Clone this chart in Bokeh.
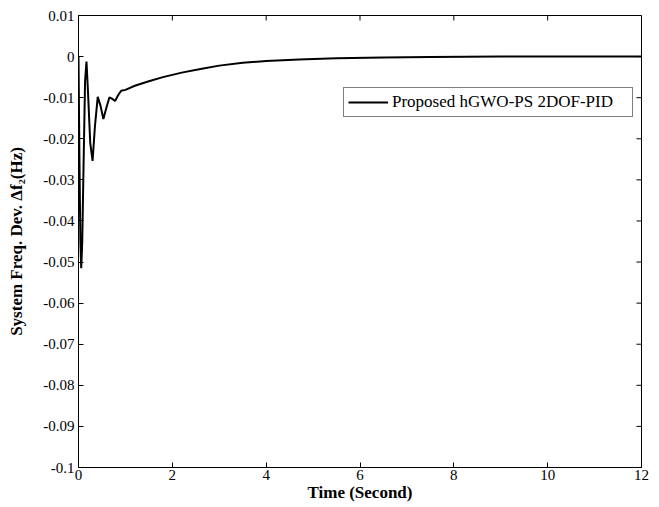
import math
from bokeh.plotting import figure
from bokeh.models import FixedTicker, Range1d, Legend, LegendItem
from bokeh.embed import file_html
from bokeh.resources import INLINE

# data
time_s = [0, 0.02, 0.04, 0.058, 0.08, 0.11, 0.14, 0.17, 0.2, 0.25, 0.3, 0.35,
          0.41, 0.47, 0.53, 0.6, 0.66, 0.72, 0.78, 0.85, 0.91, 1.0, 1.2, 1.5,
          1.8, 2.2, 2.6, 3.0, 3.5, 4.0, 4.7, 5.5, 6.5, 7.5, 9.0, 10.5, 12.0]
freq_dev = [0, -0.025, -0.045, -0.0515, -0.045, -0.025, -0.006, -0.0012, -0.008,
            -0.021, -0.0254, -0.017, -0.0098, -0.012, -0.0152, -0.0122, -0.0099,
            -0.0103, -0.0108, -0.0093, -0.0083, -0.0081, -0.0071, -0.006, -0.005,
            -0.0039, -0.003, -0.0022, -0.0015, -0.0011, -0.0007, -0.0004, -0.0002,
            -0.0001, 0.0, 0.0, 0.0]
series_name = "Proposed hGWO-PS 2DOF-PID"
x_ticks = [0, 2, 4, 6, 8, 10, 12]
y_ticks = [0.01, 0, -0.01, -0.02, -0.03, -0.04, -0.05, -0.06, -0.07, -0.08, -0.09, -0.1]
y_tick_labels = ["0.01", "0", "-0.01", "-0.02", "-0.03", "-0.04", "-0.05",
                 "-0.06", "-0.07", "-0.08", "-0.09", "-0.1"]
x_min, x_max = 0, 12
y_min, y_max = -0.1, 0.01

FONT = "Liberation Serif"

p = figure(width=659, height=507, output_backend="svg", toolbar_location=None,
           x_range=Range1d(x_min, x_max), y_range=Range1d(y_min, y_max),
           min_border_left=78, min_border_right=18, min_border_top=15,
           min_border_bottom=40)
p.background_fill_color = "white"
p.border_fill_color = "white"
p.outline_line_color = "black"
p.outline_line_width = 1
p.xgrid.visible = False
p.ygrid.visible = False

r = p.line(time_s, freq_dev, line_color="black", line_width=2)

# inward ticks on the top and right edges (MATLAB box style)
p.ray(x=x_ticks, y=[y_max] * len(x_ticks), length=5, angle=-math.pi / 2,
      length_units="screen", line_color="black", line_width=1)
p.ray(x=[x_max] * len(y_ticks), y=y_ticks, length=5, angle=math.pi,
      length_units="screen", line_color="black", line_width=1)

for ax in (p.xaxis[0], p.yaxis[0]):
    ax.major_tick_in = 5
    ax.major_tick_out = 0
    ax.minor_tick_in = 0
    ax.minor_tick_out = 0
    ax.axis_line_color = "black"
    ax.major_tick_line_color = "black"
    ax.major_label_text_font = FONT
    ax.major_label_text_font_size = "15px"
    ax.major_label_text_color = "black"
    ax.axis_label_text_font = FONT
    ax.axis_label_text_font_size = "17px"
    ax.axis_label_text_font_style = "bold"
    ax.axis_label_text_color = "black"

p.xaxis.ticker = FixedTicker(ticks=x_ticks)
p.yaxis.ticker = FixedTicker(ticks=y_ticks)
p.yaxis.major_label_overrides = {v: s for v, s in zip(y_ticks, y_tick_labels)}
p.xaxis.major_label_standoff = 2
p.yaxis.major_label_standoff = 4
p.xaxis.axis_label = "Time (Second)"
p.yaxis.axis_label = "System Freq. Dev. \u0394f\u2082(Hz)"
p.xaxis.axis_label_standoff = 0
p.yaxis.axis_label_standoff = 14

legend = Legend(items=[LegendItem(label=series_name, renderers=[r])],
                location=(265, 350), orientation="vertical")
legend.border_line_color = "black"
legend.border_line_width = 1
legend.background_fill_alpha = 1
legend.label_text_font = FONT
legend.label_text_font_size = "17px"
legend.label_text_color = "black"
legend.glyph_width = 40
legend.label_standoff = 4
legend.padding = 4
legend.margin = 0
legend.label_width = 236
legend.label_height = 19
p.add_layout(legend, "center")

open("out.html", "w").write(file_html(p, INLINE))
